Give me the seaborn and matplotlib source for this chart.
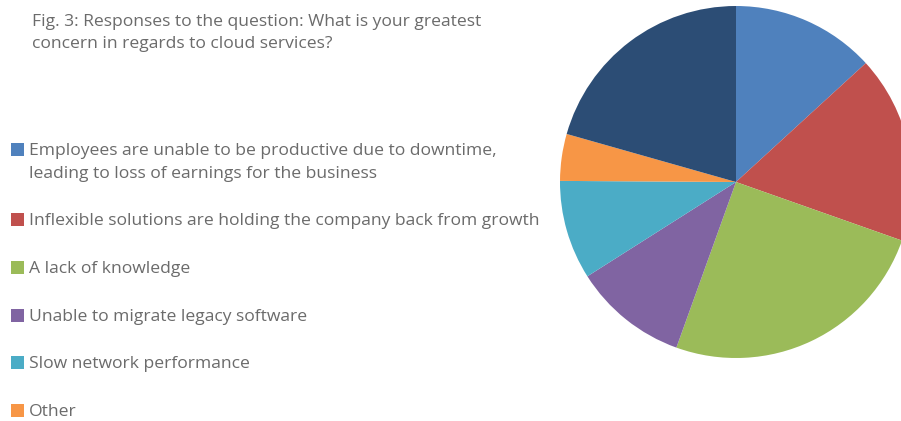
import matplotlib
matplotlib.use("Agg")
import matplotlib.pyplot as plt
import seaborn as sns
from matplotlib.patches import Rectangle

categories = [
    "Employees are unable to be productive due to downtime,\nleading to loss of earnings for the business",
    "Inflexible solutions are holding the company back from growth",
    "A lack of knowledge",
    "Unable to migrate legacy software",
    "Slow network performance",
    "Other",
    "Unlabelled",
]
values = [13.2, 17.2, 25.1, 10.5, 9.1, 4.3, 20.6]
colors = ["#4F81BD", "#C0504D", "#9BBB59", "#8064A2", "#4BACC6", "#F79646", "#2C4D75"]
legend_count = 6
title = "Fig. 3: Responses to the question: What is your greatest\nconcern in regards to cloud services?"

sns.set_theme(style="white")
plt.rcParams["font.family"] = ["Open Sans", "DejaVu Sans"]

W, H = 901, 421
fig = plt.figure(figsize=(W / 100, H / 100), dpi=100)
fig.patch.set_facecolor("white")

cx, cy, r = 736, 182, 176
ax = fig.add_axes([(cx - r) / W, (H - cy - r) / H, 2 * r / W, 2 * r / H])
palette = sns.color_palette(colors)
ax.pie(values, colors=palette, startangle=90, counterclock=False,
       wedgeprops=dict(linewidth=0), radius=1)
ax.set_xlim(-1, 1)
ax.set_ylim(-1, 1)
ax.set_axis_off()

txt_color = "#6b6b6b"
fs = 12.6

for j, line in enumerate(title.split("\n")):
    fig.text(32 / W, 1 - (26 + 22 * j) / H, line, ha="left", va="baseline",
             fontsize=fs, color=txt_color)

row_y = [149, 219, 267, 315, 362, 410]
for i in range(legend_count):
    y = row_y[i]
    fig.patches.append(Rectangle(((11) / W, 1 - (y + 6.5) / H), 13 / W, 13 / H,
                                 transform=fig.transFigure, facecolor=colors[i],
                                 edgecolor="none"))
    for j, line in enumerate(categories[i].split("\n")):
        fig.text(29 / W, 1 - (y + 6 + 23 * j) / H, line, ha="left",
                 va="baseline", fontsize=fs, color=txt_color)

fig.savefig("out.png", dpi=100, facecolor="white")
